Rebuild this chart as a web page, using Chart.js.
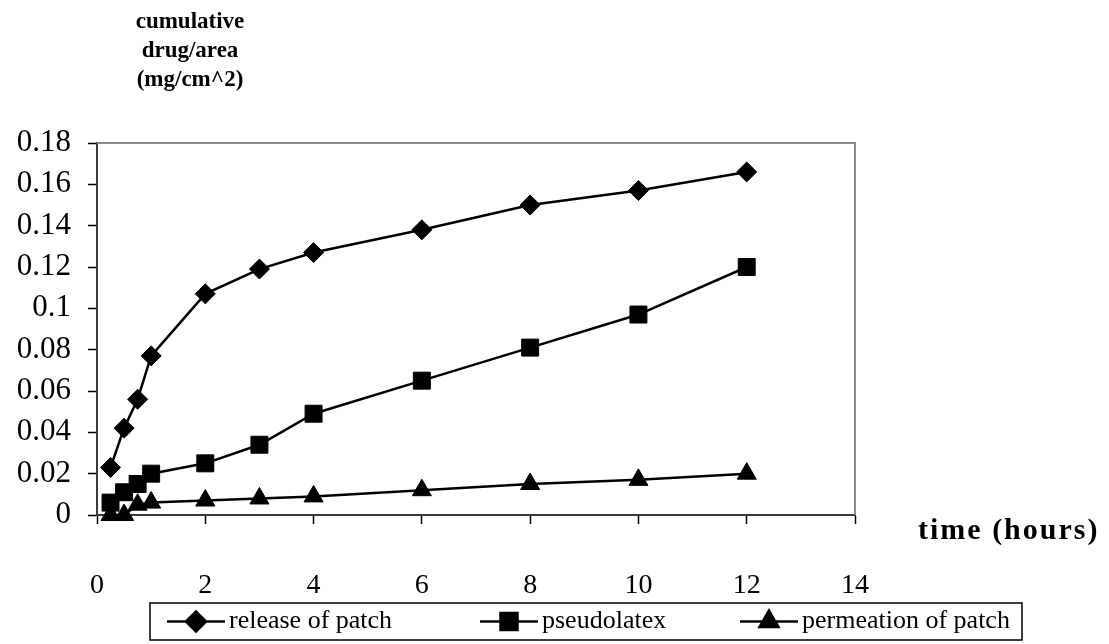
<!DOCTYPE html>
<html>
<head>
<meta charset="utf-8">
<script src="https://cdn.jsdelivr.net/npm/chart.js@4/dist/chart.umd.min.js"></script>
<style>
  html, body { margin: 0; padding: 0; background: #fff; }
  #wrap { width: 1109px; height: 644px; position: relative; }
</style>
</head>
<body>
<div id="wrap"><canvas id="c" width="1109" height="644"></canvas></div>
<script>
// Sampling times (hours)
const hours = [0.25, 0.5, 0.75, 1, 2, 3, 4, 6, 8, 10, 12];
// Cumulative drug per area (mg/cm^2)
const releaseOfPatch    = [0.023, 0.042, 0.056, 0.077, 0.107, 0.119, 0.127, 0.138, 0.150, 0.157, 0.166];
const pseudolatex       = [0.006, 0.011, 0.015, 0.020, 0.025, 0.034, 0.049, 0.065, 0.081, 0.097, 0.120];
const permeationOfPatch = [0.000, 0.000, 0.005, 0.006, 0.007, 0.008, 0.009, 0.012, 0.015, 0.017, 0.020];

const seriesNames = ['release of patch', 'pseudolatex', 'permeation of patch'];
const yTitleLines = ['cumulative', 'drug/area', '(mg/cm^2)'];
const xTitle = 'time (hours)';

const SERIF = '"Liberation Serif", "Times New Roman", serif';

function toPoints(values) {
  return hours.map((h, i) => ({ x: h, y: values[i] }));
}

function seriesStyle(style, radius) {
  return {
    borderColor: '#000',
    backgroundColor: '#000',
    borderWidth: 2.5,
    pointStyle: style,
    pointRadius: radius,
    pointHoverRadius: radius,
    pointBackgroundColor: '#000',
    pointBorderColor: '#000',
    pointBorderWidth: 1,
    tension: 0,
    clip: false
  };
}

// Plot frame: grey top/right edges of the box around the plot
const framePlugin = {
  id: 'frame',
  beforeDatasetsDraw(chart) {
    const { ctx, chartArea: a } = chart;
    ctx.save();
    ctx.strokeStyle = '#8a8a8a';
    ctx.lineWidth = 2;
    ctx.beginPath();
    ctx.moveTo(a.left, a.top);
    ctx.lineTo(a.right, a.top);
    ctx.lineTo(a.right, a.bottom);
    ctx.stroke();
    ctx.restore();
  }
};

// Axis titles placed freely
const titlesPlugin = {
  id: 'titles',
  afterDraw(chart) {
    const { ctx } = chart;
    ctx.save();
    ctx.fillStyle = '#000';
    ctx.textBaseline = 'middle';
    ctx.textAlign = 'center';
    ctx.font = 'bold 23px ' + SERIF;
    yTitleLines.forEach((line, i) => ctx.fillText(line, 190, 22 + i * 29));
    ctx.textAlign = 'left';
    ctx.font = 'bold 30px ' + SERIF;
    if ('letterSpacing' in ctx) ctx.letterSpacing = '2px';
    ctx.fillText(xTitle, 918, 531);
    ctx.restore();
  }
};

// Boxed legend under the plot
const boxLegendPlugin = {
  id: 'boxLegend',
  afterDraw(chart) {
    const { ctx } = chart;
    const box = { x: 150, y: 603, w: 872, h: 37 };
    const itemX = [167, 480, 740];
    ctx.save();
    ctx.strokeStyle = '#000';
    ctx.lineWidth = 1.5;
    ctx.strokeRect(box.x, box.y, box.w, box.h);
    const cy = box.y + box.h / 2;
    chart.data.datasets.forEach((ds, i) => {
      const x0 = itemX[i];
      ctx.strokeStyle = '#000';
      ctx.lineWidth = 2.5;
      ctx.beginPath();
      ctx.moveTo(x0, cy);
      ctx.lineTo(x0 + 58, cy);
      ctx.stroke();
      ctx.fillStyle = '#000';
      Chart.helpers.drawPoint(ctx, {
        pointStyle: ds.pointStyle,
        radius: ds.pointRadius,
        rotation: 0,
        borderWidth: 1
      }, x0 + 29, cy);
      ctx.fillStyle = '#000';
      ctx.font = '26px ' + SERIF;
      ctx.textAlign = 'left';
      ctx.textBaseline = 'middle';
      ctx.fillText(ds.label, x0 + 62, cy);
    });
    ctx.restore();
  }
};

new Chart(document.getElementById('c'), {
  type: 'line',
  data: {
    datasets: [
      Object.assign({ label: seriesNames[0], data: toPoints(releaseOfPatch) }, seriesStyle('rectRot', 10)),
      Object.assign({ label: seriesNames[1], data: toPoints(pseudolatex) }, seriesStyle('rect', 12)),
      Object.assign({ label: seriesNames[2], data: toPoints(permeationOfPatch) }, seriesStyle('triangle', 11))
    ]
  },
  options: {
    responsive: false,
    animation: false,
    devicePixelRatio: 1,
    layout: { padding: { left: 7, right: 254, top: 143, bottom: 0 } },
    plugins: {
      legend: { display: false },
      tooltip: { enabled: false },
      title: { display: false }
    },
    scales: {
      x: {
        type: 'linear',
        min: 0,
        max: 14,
        ticks: {
          stepSize: 2,
          color: '#000',
          font: { family: SERIF, size: 28 },
          padding: 45,
          maxRotation: 0
        },
        grid: { drawOnChartArea: false, drawTicks: true, tickLength: 9, color: '#000', tickWidth: 1.5 },
        border: { color: '#3a3a3a', width: 2 },
        afterFit(scale) { scale.height = 129; }
      },
      y: {
        min: 0,
        max: 0.18,
        ticks: {
          stepSize: 0.02,
          color: '#000',
          font: { family: SERIF, size: 31 },
          padding: 17,
          callback: v => String(Math.round(v * 100) / 100)
        },
        grid: { drawOnChartArea: false, drawTicks: true, tickLength: 9, color: '#000', tickWidth: 1.5 },
        border: { color: '#3a3a3a', width: 2 },
        afterFit(scale) { scale.width = 90; }
      }
    }
  },
  plugins: [framePlugin, titlesPlugin, boxLegendPlugin]
});
</script>
</body>
</html>
